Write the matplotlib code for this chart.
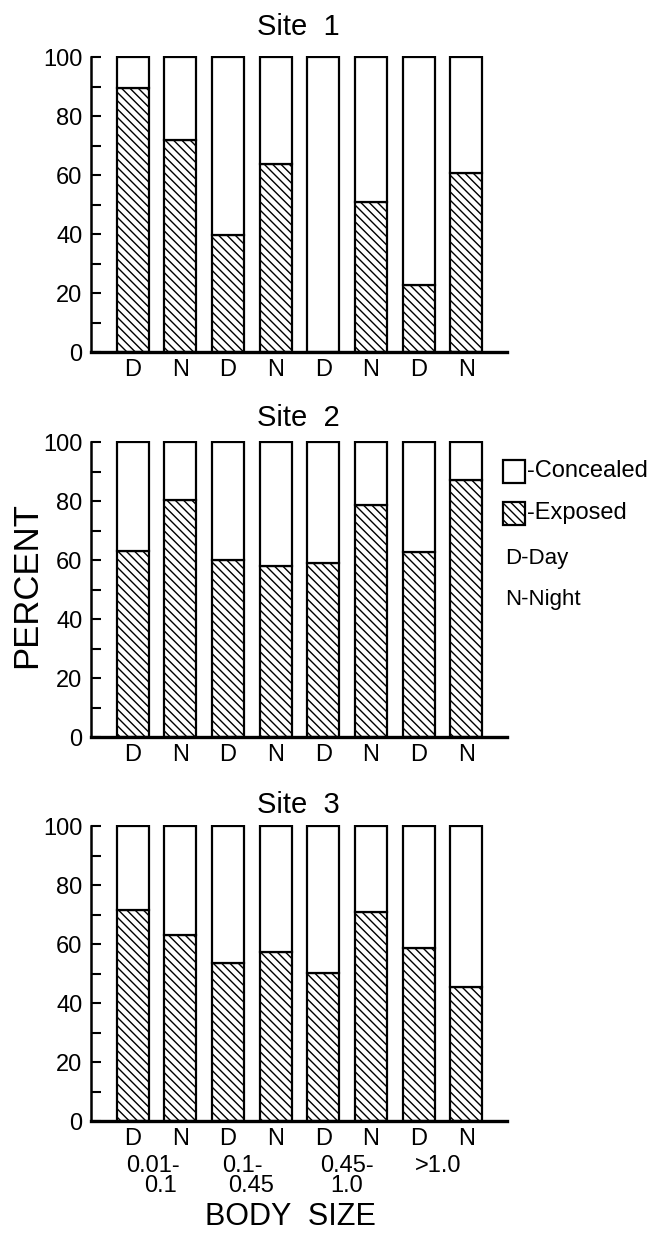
import matplotlib
matplotlib.use("Agg")
import matplotlib.pyplot as plt
import matplotlib.patches as mpatches
import numpy as np

plt.rcParams["font.family"] = ["Liberation Sans", "DejaVu Sans"]
plt.rcParams["hatch.linewidth"] = 1.0

# percent of animals exposed, per body-size class, Day / Night
sites = ["Site  1", "Site  2", "Site  3"]
exposed_site1 = [89.7, 71.8, 39.7, 63.6, 0.0, 51.0, 22.6, 60.8]
exposed_site2 = [63.2, 80.4, 60.2, 57.9, 59.1, 78.7, 62.6, 87.2]
exposed_site3 = [71.7, 63.2, 53.7, 57.4, 50.1, 71.0, 58.8, 45.6]
period_labels = ["D", "N", "D", "N", "D", "N", "D", "N"]
size_line1 = ["0.01-", "0.1-", "0.45-", ">1.0"]
size_line2 = ["0.1", "0.45", "1.0", ""]

exposed_all = [exposed_site1, exposed_site2, exposed_site3]
x = np.arange(len(period_labels))

fig = plt.figure(figsize=(6.72, 12.36), dpi=100)
bottoms = [0.7152, 0.4037, 0.0930]
title_pads = [15, 11, 9]
axes = []
for i, (name, vals) in enumerate(zip(sites, exposed_all)):
    ax = fig.add_axes([0.135, bottoms[i], 0.619, 0.2395])
    vals = np.array(vals)
    ax.bar(x, vals, width=0.67, facecolor="white", edgecolor="black",
           linewidth=1.6, hatch="\\\\\\\\")
    ax.bar(x, 100 - vals, bottom=vals, width=0.67, facecolor="white",
           edgecolor="black", linewidth=1.6)
    ax.set_xlim(-0.88, 7.85)
    ax.set_ylim(0, 100.4)
    ax.spines["top"].set_visible(False)
    ax.spines["right"].set_visible(False)
    ax.spines["left"].set_linewidth(1.8)
    ax.spines["bottom"].set_linewidth(2.4)
    ax.spines["left"].set_bounds(0, 100)
    ax.set_yticks(np.arange(0, 101, 20))
    ax.set_yticks(np.arange(10, 100, 20), minor=True)
    ax.tick_params(axis="y", which="both", direction="in", length=7, width=1.5,
                   labelsize=17, pad=6)
    ax.set_xticks(x)
    ax.set_xticklabels(period_labels)
    ax.tick_params(axis="x", length=0, labelsize=17, pad=5)
    ax.set_title(name, fontsize=21, pad=title_pads[i])
    axes.append(ax)

# body size classes under the last panel
ax3 = axes[2]
trans = matplotlib.transforms.blended_transform_factory(ax3.transData, ax3.transAxes)
line1_x = [-0.13, 1.87, 3.93, 5.92]
line2_x = [0.25, 2.0, 4.14, 0]
for t1, t2, p1, p2 in zip(size_line1, size_line2, line1_x, line2_x):
    ax3.text(p1, -0.153, t1, transform=trans, ha="left", va="center", fontsize=17)
    if t2:
        ax3.text(p2, -0.22, t2, transform=trans, ha="left", va="center", fontsize=17)

fig.text(0.039, 0.527, "PERCENT", rotation=90, ha="center", va="center", fontsize=25)
fig.text(0.4315, 0.003, "BODY  SIZE", ha="center", va="bottom", fontsize=22)

# legend drawn by hand
fig.patches.append(mpatches.Rectangle((0.7485, 0.6092), 0.0327, 0.0186,
                                      transform=fig.transFigure, facecolor="white",
                                      edgecolor="black", linewidth=1.6))
fig.patches.append(mpatches.Rectangle((0.7485, 0.5752), 0.0327, 0.0186,
                                      transform=fig.transFigure, facecolor="white",
                                      edgecolor="black", linewidth=1.6, hatch="\\\\\\\\"))
fig.text(0.784, 0.619, "-Concealed", ha="left", va="center", fontsize=17)
fig.text(0.784, 0.585, "-Exposed", ha="left", va="center", fontsize=17)
fig.text(0.7515, 0.5485, "D-Day", ha="left", va="center", fontsize=16)
fig.text(0.7515, 0.5146, "N-Night", ha="left", va="center", fontsize=16)

fig.savefig("out.png", dpi=100)
